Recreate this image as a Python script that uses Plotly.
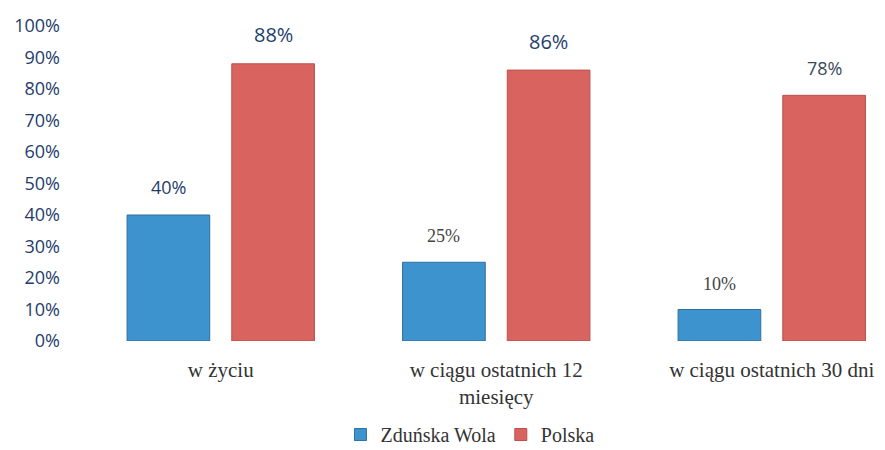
import plotly.graph_objects as go

categories = ["w życiu", "w ciągu ostatnich 12<br>miesięcy", "w ciągu ostatnich 30 dni"]
zdunska_wola = [40, 25, 10]
polska = [88, 86, 78]
y_ticks = [0, 10, 20, 30, 40, 50, 60, 70, 80, 90, 100]

x = list(range(len(categories)))

blue = "#3C93CD"
red = "#D9635F"
BAR_W = 0.30
BLUE_OFF = -0.34
RED_OFF = 0.04

fig = go.Figure()
fig.add_trace(go.Bar(
    x=x, y=zdunska_wola, name="Zduńska Wola",
    marker=dict(color=blue, line=dict(color="#2F6F9E", width=1)),
    width=BAR_W, offset=BLUE_OFF,
))
fig.add_trace(go.Bar(
    x=x, y=polska, name="Polska",
    marker=dict(color=red, line=dict(color="#B9504C", width=1)),
    width=BAR_W, offset=RED_OFF,
))

blue_fonts = [("Open Sans", 18, "#1F3D6B", 28), ("Liberation Serif", 18, "#444444", 26), ("Liberation Serif", 18, "#444444", 26)]
red_fonts = [("Open Sans", 20, "#1F3D6B", 29), ("Open Sans", 20, "#1F3D6B", 29), ("Open Sans", 18, "#3A4A5E", 27)]
for i in x:
    f = blue_fonts[i]
    fig.add_annotation(x=i + BLUE_OFF + BAR_W / 2, y=zdunska_wola[i], text=f"{zdunska_wola[i]}%",
                       showarrow=False, yanchor="middle", yshift=f[3],
                       font=dict(family=f[0], size=f[1], color=f[2]))
    f = red_fonts[i]
    fig.add_annotation(x=i + RED_OFF + BAR_W / 2, y=polska[i], text=f"{polska[i]}%",
                       showarrow=False, yanchor="middle", yshift=f[3],
                       font=dict(family=f[0], size=f[1], color=f[2]))

fig.update_layout(
    width=877, height=442,
    margin=dict(l=75, r=0, t=18, b=109, autoexpand=False),
    paper_bgcolor="white", plot_bgcolor="white",
    showlegend=True,
    legend=dict(orientation="h", x=0.4825, xanchor="center", y=-0.235, yanchor="top",
                font=dict(family="Liberation Serif", size=20, color="#333333"),
                itemwidth=30, tracegroupgap=0),
)
fig.update_xaxes(
    range=[-0.5, 2.411], tickvals=x, ticktext=categories,
    tickfont=dict(family="Liberation Serif", size=21, color="#333333"),
    showgrid=False, zeroline=False, showline=False, ticks="",
    ticklabelstandoff=14, automargin=False,
)
fig.update_yaxes(
    range=[0, 100], tickvals=y_ticks, ticktext=[f"{v}%" for v in y_ticks],
    tickfont=dict(family="Open Sans", size=18, color="#1F3D6B"),
    showgrid=False, zeroline=False, showline=False, ticks="",
    ticklabelstandoff=22, automargin=False,
)

fig.write_html("out.html")
